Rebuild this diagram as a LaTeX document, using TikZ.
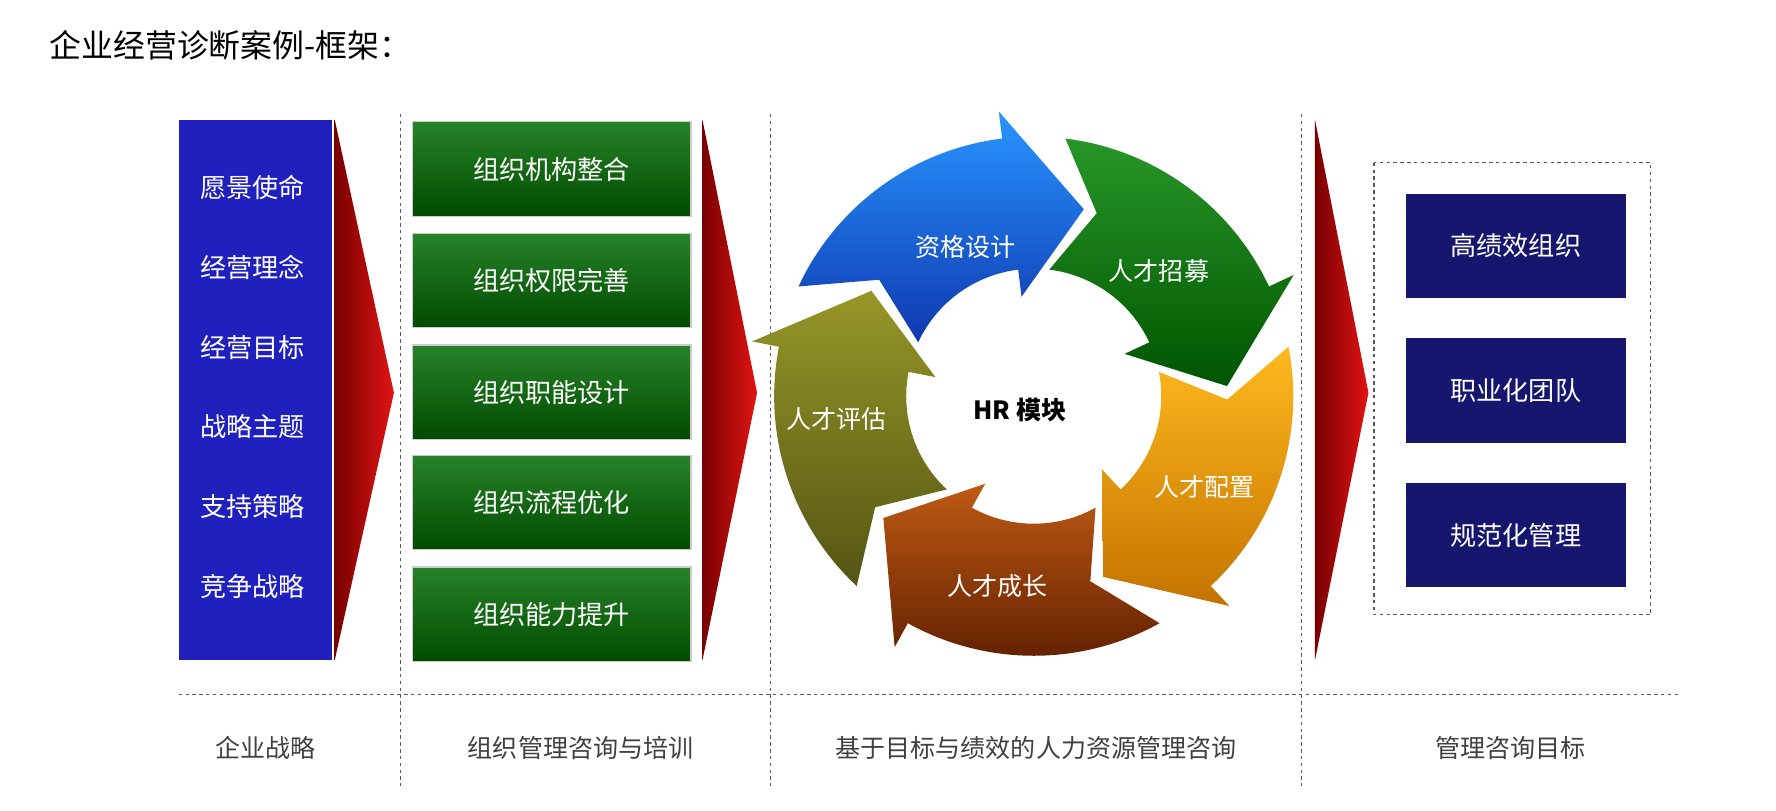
\documentclass[tikz,border=0pt]{standalone}
\usepackage{fontspec}
\setmainfont{Noto Sans CJK SC}
\usetikzlibrary{calc}
\definecolor{bbox}{RGB}{32,32,190}
\definecolor{navy}{RGB}{22,22,110}
\definecolor{gtop}{RGB}{40,130,40}
\definecolor{gbot}{RGB}{0,75,0}
\definecolor{rdark}{RGB}{120,0,0}
\definecolor{rlight}{RGB}{225,20,20}
\definecolor{b1}{RGB}{40,150,255}\definecolor{b2}{RGB}{15,55,175}
\definecolor{g1}{RGB}{40,150,40}\definecolor{g2}{RGB}{0,85,0}
\definecolor{o1}{RGB}{255,185,30}\definecolor{o2}{RGB}{195,115,0}
\definecolor{r1}{RGB}{190,90,20}\definecolor{r2}{RGB}{95,30,0}
\definecolor{v1}{RGB}{150,150,40}\definecolor{v2}{RGB}{85,85,20}
\tikzset{
  wtxt/.style={text=white,font=\fontsize{23}{23}\selectfont},
  gbox/.style={draw=gray!40,line width=1pt,top color=gtop,bottom color=gbot},
  nbox/.style={fill=navy},
  dotline/.style={draw=gray!70!black,dash pattern=on 3pt off 3pt,line width=1.2pt},
  btxt/.style={font=\fontsize{22}{22}\selectfont,text=black!75},
  ctxt/.style={text=white,font=\fontsize{22}{22}\selectfont}
}
\begin{document}
\begin{tikzpicture}[x=1pt,y=-1pt]
\useasboundingbox (0,0) rectangle (1560,712);
\node[anchor=west,font=\fontsize{28}{28}\selectfont] (title) at (40,40) {企业经营诊断案例-框架：};
% column 1
\fill[bbox] (157,105) rectangle (292,580);
\foreach \y/\t [count=\i] in {165/愿景使命,235/经营理念,305/经营目标,375/战略主题,445/支持策略,515/竞争战略}
  \node[wtxt] (s\i) at (222,\y) {\t};
% red arrows
\foreach \xa/\xb [count=\i] in {294/346,617/665,1155/1202}
  \shade[left color=rdark,right color=rlight] (\xa,105) -- (\xb,345) -- (\xa,580) -- cycle;
% dotted lines
\foreach \x/\n in {352/1,677/2,1143/3}
  \draw[dotline] (\x,100) coordinate (vt\n) -- (\x,690) coordinate (vb\n);
\draw[dotline] (157,610) coordinate (hl) -- (1475,610) coordinate (hr);
% green boxes
\foreach \y/\t [count=\i] in {107/组织机构整合,205/组织权限完善,303/组织职能设计,400/组织流程优化,498/组织能力提升}{
  \path[gbox] (362,\y) rectangle (607,\y+83);
  \node[wtxt] (o\i) at (484.5,\y+41.5) {\t};
}
% cycle
\begin{scope}[shift={(908,348)}]
\foreach \tip/\ca/\cb in {75/b1/b2,3/g1/g2,-69/o1/o2,-141/r1/r2,147/v1/v2}{
  \pgfmathsetmacro{\tail}{\tip+80}
  \pgfmathsetmacro{\notch}{\tip+68}
  \pgfmathsetmacro{\base}{\tip+22}
  \shade[top color=\ca,bottom color=\cb]
    (\tail:228pt) arc[start angle=\tail,end angle=\base,radius=228pt]
    -- (\base:252pt) -- (\tip:170pt) -- (\base:88pt) -- (\base:112pt)
    arc[start angle=\base,end angle=\tail,radius=112pt] -- (\notch:170pt) -- cycle;
}
\end{scope}
\node[ctxt] (c1) at (848,217) {资格设计};
\node[ctxt] (c2) at (1018,238) {人才招募};
\node[ctxt] (c3) at (1058,428) {人才配置};
\node[ctxt] (c4) at (876,515) {人才成长};
\node[ctxt] (c5) at (735,368) {人才评估};
\node[font=\fontsize{22}{22}\selectfont\bfseries] (hr) at (896,360) {HR 模块};
% goals
\draw[dotline] (1207,143) rectangle (1450,540);
\foreach \y/\t [count=\i] in {170/高绩效组织,297/职业化团队,424/规范化管理}{
  \fill[nbox] (1235,\y) rectangle (1428,\y+92);
  \node[wtxt] (g\i) at (1331.5,\y+46) {\t};
}
% bottom labels
\node[btxt] (l1) at (233,657) {企业战略};
\node[btxt] (l2) at (510,657) {组织管理咨询与培训};
\node[btxt] (l3) at (910,657) {基于目标与绩效的人力资源管理咨询};
\node[btxt] (l4) at (1327,657) {管理咨询目标};
\end{tikzpicture}
\end{document}
